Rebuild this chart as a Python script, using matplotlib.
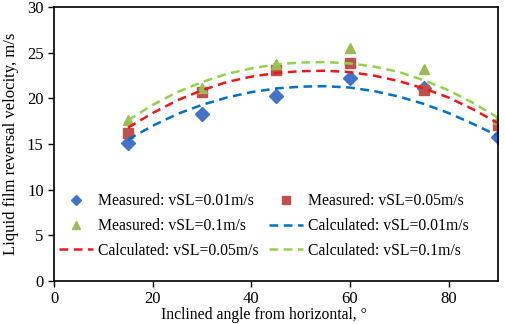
import matplotlib
matplotlib.use("Agg")
import matplotlib.pyplot as plt

plt.rcParams["font.family"] = ["Liberation Serif", "DejaVu Serif"]

# measured points
angle_meas = [15, 30, 45, 60, 75, 90]
meas_001 = [15.1, 18.3, 20.3, 22.3, 21.1, 15.8]
meas_005 = [16.2, 20.7, 23.1, 23.9, 20.9, 17.1]
meas_01 = [17.6, 21.1, 23.8, 25.5, 23.2, 17.7]

# calculated curves
angle_calc = [15, 20, 25, 30, 35, 40, 45, 50, 55, 60, 65, 70, 75, 80, 85, 90]
calc_001 = [15.5, 17.0, 18.3, 19.3, 20.1, 20.7, 21.1, 21.3, 21.35, 21.2,
            20.8, 20.2, 19.4, 18.4, 17.2, 15.9]
calc_005 = [16.8, 18.4, 19.8, 20.9, 21.8, 22.4, 22.8, 23.0, 23.05, 22.9,
            22.5, 21.9, 21.1, 20.1, 18.8, 17.3]
calc_01 = [17.6, 19.3, 20.7, 21.8, 22.7, 23.3, 23.75, 23.95, 24.0, 23.85,
           23.5, 22.9, 22.0, 20.9, 19.5, 17.9]

fig = plt.figure(figsize=(5.05, 3.24), dpi=100)
ax = fig.add_axes([0.107, 0.134, 0.879, 0.843])

dash = (3.5, 2.2)
m1, = ax.plot(angle_meas, meas_001, "D", color="#4472C4", ms=6.8, label="Measured: vSL=0.01m/s")
m2, = ax.plot(angle_meas, meas_005, "s", color="#C0504D", ms=6.5, label="Measured: vSL=0.05m/s")
m3, = ax.plot(angle_meas, meas_01, "^", color="#9BBB59", ms=7, label="Measured: vSL=0.1m/s")
c1, = ax.plot(angle_calc, calc_001, "--", color="#0070C0", lw=1.8, dashes=dash,
              label="Calculated: vSL=0.01m/s")
c2, = ax.plot(angle_calc, calc_005, "--", color="#E41A1C", lw=1.8, dashes=dash,
              label="Calculated: vSL=0.05m/s")
c3, = ax.plot(angle_calc, calc_01, "--", color="#92D050", lw=1.8, dashes=dash,
              label="Calculated: vSL=0.1m/s")

ax.set_xlim(0, 90)
ax.set_ylim(0, 30)
ax.set_xticks([0, 20, 40, 60, 80])
ax.set_yticks([0, 5, 10, 15, 20, 25, 30])
ax.tick_params(labelsize=12, length=4, width=1)
for s in ax.spines.values():
    s.set_linewidth(1.2)

ax.set_xlabel("Inclined angle from horizontal, °", fontsize=11.3)
ax.xaxis.set_label_coords(0.473, -0.097)
ax.set_ylabel("Liquid film reversal velocity, m/s", fontsize=12)
ax.yaxis.set_label_coords(-0.08, 0.5)

# legend is filled row by row in the reference; matplotlib fills by column
handles = [m1, m3, c2, m2, c1, c3]
ax.legend(handles=handles, labels=[h.get_label() for h in handles],
          ncol=2, frameon=False, fontsize=11.3, loc="upper left",
          bbox_to_anchor=(0.011, 0.319), borderaxespad=0, borderpad=0,
          handlelength=2.2, columnspacing=0.6, labelspacing=0.55,
          handletextpad=0.32, markerscale=0.78)

fig.savefig("out.png", dpi=100)
